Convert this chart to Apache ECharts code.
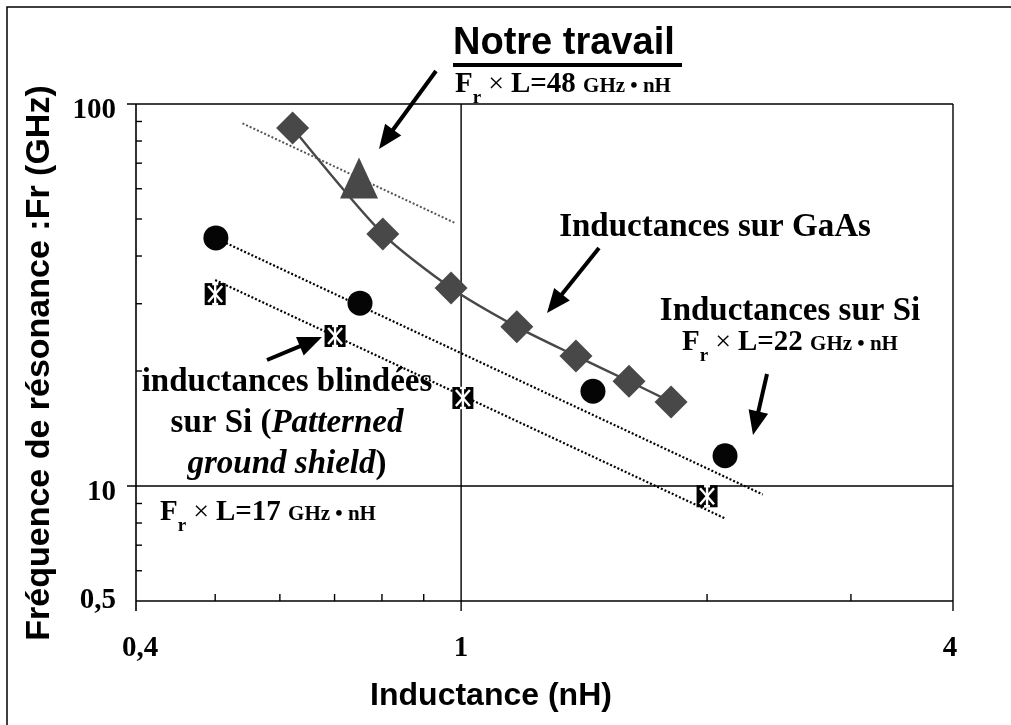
<!DOCTYPE html>
<html>
<head>
<meta charset="utf-8">
<script src="https://cdn.jsdelivr.net/npm/echarts@6/dist/echarts.min.js"></script>
<style>
  html, body { margin: 0; padding: 0; background: #fff; }
  #chart { width: 1011px; height: 725px; }
</style>
</head>
<body>
<div id="chart"></div>
<script>
// Inductance L (nH) against resonance frequency Fr (GHz)
const gaasL = [0.622, 0.802, 0.972, 1.170, 1.382, 1.605, 1.807];
const gaasF = [86.5, 45.7, 33.0, 26.1, 21.9, 18.8, 16.6];

const notreL = [0.75];
const notreF = [64];
const notreFitL = [0.54, 0.985];   // Fr x L = 48 GHz.nH
const notreFitF = [89, 48.7];

const siL = [0.501, 0.752, 1.45, 2.104];
const siF = [44.6, 30.1, 17.7, 12.0];
const siFitL = [0.5, 2.34];        // Fr x L = 22 GHz.nH
const siFitF = [44.6, 9.5];

const pgsL = [0.5, 0.701, 1.005, 2.0];
const pgsF = [31.8, 24.7, 17.0, 9.4];
const pgsFitL = [0.5, 2.1];        // Fr x L = 17 GHz.nH
const pgsFitF = [34.6, 8.24];

// axis ticks
const X_MIN = 0.4, X_MAX = 4, Y_MIN = 5, Y_MAX = 100;
const xMajor = [0.4, 1, 4];
const xMajorLabels = ['0,4', '1', '4'];
const xMinor = [0.5, 0.6, 0.7, 0.8, 0.9, 2, 3];
const yMajor = [5, 10, 100];
const yMajorLabels = ['0,5', '10', '100'];
const yMinor = [6, 7, 8, 9, 20, 30, 40, 50, 60, 70, 80, 90];

const pairs = (xs, ys) => xs.map((x, i) => [x, ys[i]]);

const SERIF = '"Liberation Serif", "Times New Roman", serif';
const SANS = '"Liberation Sans", Arial, sans-serif';

// frame, gridlines, ticks and tick labels, placed through the axes
function renderFrame(params, api) {
  const kids = [];
  const seg = (x1, y1, x2, y2, w) => kids.push({
    type: 'line', shape: { x1, y1, x2, y2 }, style: { stroke: '#000', lineWidth: w }
  });
  const bl = api.coord([X_MIN, Y_MIN]);
  const tr = api.coord([X_MAX, Y_MAX]);
  const left = bl[0], bottom = bl[1], right = tr[0], top = tr[1];

  seg(left, bottom, right, bottom, 1.6);
  yMajor.forEach(v => {
    if (v === Y_MIN) return;
    const y = api.coord([X_MIN, v])[1];
    seg(left - 9, y, right, y, 1.4);
  });
  xMajor.forEach(v => {
    const x = api.coord([v, Y_MIN])[0];
    seg(x, top, x, bottom + 10, v === X_MIN ? 1.6 : 1.4);
  });
  yMinor.forEach(v => {
    const y = api.coord([X_MIN, v])[1];
    seg(left, y, left + 6, y, 1.4);
  });
  xMinor.forEach(v => {
    const x = api.coord([v, Y_MIN])[0];
    seg(x, bottom, x, bottom - 7, 1.4);
  });

  yMajor.forEach((v, i) => kids.push({
    type: 'text',
    x: left - 20, y: api.coord([X_MIN, v])[1] + (v === Y_MIN ? 0 : 7),
    style: { text: yMajorLabels[i], font: 'bold 29px ' + SERIF, fill: '#000', align: 'right', verticalAlign: 'middle' }
  }));
  xMajor.forEach((v, i) => kids.push({
    type: 'text',
    x: api.coord([v, Y_MIN])[0] + (v === X_MIN ? 4 : (v === X_MAX ? -3 : 0)), y: bottom + 48,
    style: { text: xMajorLabels[i], font: 'bold 29px ' + SERIF, fill: '#000', align: 'center', verticalAlign: 'middle' }
  }));
  return { type: 'group', children: kids };
}

// black square with a white star
function renderShieldMarker(params, api) {
  const p = api.coord([api.value(0), api.value(1)]);
  const w = 10.5, h = 11;
  const white = { stroke: '#fff', lineWidth: 2.4 };
  return {
    type: 'group',
    children: [
      { type: 'rect', shape: { x: p[0] - w, y: p[1] - h, width: 2 * w, height: 2 * h }, style: { fill: '#000' } },
      { type: 'line', shape: { x1: p[0] - 7, y1: p[1] - 8, x2: p[0] + 7, y2: p[1] + 8 }, style: white },
      { type: 'line', shape: { x1: p[0] + 7, y1: p[1] - 8, x2: p[0] - 7, y2: p[1] + 8 }, style: white },
      { type: 'line', shape: { x1: p[0], y1: p[1] - 10, x2: p[0], y2: p[1] + 10 }, style: white },
      { type: 'line', shape: { x1: p[0] - 3, y1: p[1] - 10, x2: p[0] + 3, y2: p[1] - 10 }, style: white },
      { type: 'line', shape: { x1: p[0] - 3, y1: p[1] + 10, x2: p[0] + 3, y2: p[1] + 10 }, style: white }
    ]
  };
}

function arrow(x1, y1, x2, y2) {
  const dx = x2 - x1, dy = y2 - y1, len = Math.hypot(dx, dy);
  const ux = dx / len, uy = dy / len;
  const hl = 24, hw = 10;
  const bx = x2 - ux * hl, by = y2 - uy * hl;
  return [
    { type: 'line', shape: { x1, y1, x2: bx + ux * 3, y2: by + uy * 3 }, style: { stroke: '#000', lineWidth: 4 } },
    { type: 'polygon', shape: { points: [[x2, y2], [bx - uy * hw, by + ux * hw], [bx + uy * hw, by - ux * hw]] }, style: { fill: '#000' } }
  ];
}

// "Fr x L = n GHz . nH" with subscript r
const frRich = {
  F: { font: 'bold 29px ' + SERIF, lineHeight: 29, padding: [0, 0, 9, 0], verticalAlign: 'bottom', fill: '#000' },
  r: { font: 'bold 19px ' + SERIF, lineHeight: 19, verticalAlign: 'bottom', fill: '#000' },
  x: { font: '28px ' + SERIF, lineHeight: 29, padding: [0, 0, 9, 0], verticalAlign: 'bottom', fill: '#000' },
  u: { font: 'bold 21px ' + SERIF, lineHeight: 21, padding: [0, 0, 11, 0], verticalAlign: 'bottom', fill: '#000' }
};
function frText(x, y, align, n) {
  return {
    type: 'text', x, y, z: 20,
    style: { text: '{F|F}{r|r}{x| × }{F|L=' + n + ' }{u|GHz • nH}', rich: frRich, align, verticalAlign: 'bottom' }
  };
}
function bigLabel(x, y, text) {
  return {
    type: 'text', x, y, z: 20,
    style: { text, font: 'bold 33px ' + SERIF, fill: '#000', align: 'center', verticalAlign: 'middle' }
  };
}

const chart = echarts.init(document.getElementById('chart'), null, { renderer: 'canvas' });

const hiddenAxis = {
  axisLine: { show: false }, axisTick: { show: false }, axisLabel: { show: false }, splitLine: { show: false }
};

chart.setOption({
  animation: false,
  backgroundColor: '#fff',
  grid: { left: 136, right: 58, top: 104, bottom: 124 },
  xAxis: Object.assign({ type: 'log', logBase: 10, min: X_MIN, max: X_MAX }, hiddenAxis),
  yAxis: Object.assign({ type: 'log', logBase: 10, min: Y_MIN, max: Y_MAX }, hiddenAxis),
  series: [
    {
      name: 'frame', type: 'custom', renderItem: renderFrame, silent: true, z: 1,
      data: [[X_MIN, Y_MIN]]
    },
    {
      name: 'Notre travail (ajustement)', type: 'line', data: pairs(notreFitL, notreFitF),
      showSymbol: false, symbol: 'none', z: 2, silent: true,
      lineStyle: { color: '#555', width: 2, type: [2, 2] }
    },
    {
      name: 'Si (ajustement)', type: 'line', data: pairs(siFitL, siFitF),
      showSymbol: false, symbol: 'none', z: 2, silent: true,
      lineStyle: { color: '#000', width: 2.2, type: [2, 2] }
    },
    {
      name: 'Si blindé (ajustement)', type: 'line', data: pairs(pgsFitL, pgsFitF),
      showSymbol: false, symbol: 'none', z: 2, silent: true,
      lineStyle: { color: '#000', width: 2.2, type: [2, 2] }
    },
    {
      name: 'Inductances sur GaAs', type: 'line', data: pairs(gaasL, gaasF),
      smooth: 0.25, symbol: 'diamond', symbolSize: 33, z: 4,
      itemStyle: { color: '#484848', opacity: 1 },
      lineStyle: { color: '#484848', width: 2.4 }
    },
    {
      name: 'Notre travail', type: 'scatter', data: pairs(notreL, notreF),
      symbol: 'triangle', symbolSize: [38, 41], z: 5,
      itemStyle: { color: '#484848', opacity: 1 }
    },
    {
      name: 'Inductances sur Si', type: 'scatter', data: pairs(siL, siF),
      symbol: 'circle', symbolSize: 25, z: 5,
      itemStyle: { color: '#050505', opacity: 1 }
    },
    {
      name: 'Inductances blindées', type: 'custom', data: pairs(pgsL, pgsF),
      renderItem: renderShieldMarker, z: 5
    }
  ],
  graphic: [
    // outer border
    { type: 'rect', shape: { x: 7, y: 7, width: 1200, height: 900 }, style: { fill: null, stroke: '#000', lineWidth: 1.5 }, z: 10 },
    // axis titles
    { type: 'text', x: 491, y: 696, z: 20, style: { text: 'Inductance (nH)', font: 'bold 32px ' + SANS, fill: '#000', align: 'center', verticalAlign: 'middle' } },
    { type: 'text', x: 40, y: 363, rotation: Math.PI / 2, z: 20, style: { text: 'Fréquence de résonance :Fr (GHz)', font: 'bold 34px ' + SANS, fill: '#000', align: 'center', verticalAlign: 'middle' } },
    // "Notre travail" heading
    { type: 'text', x: 453, y: 44, z: 20, style: { text: 'Notre travail', font: 'bold 38px ' + SANS, fill: '#000', align: 'left', verticalAlign: 'middle' } },
    { type: 'rect', shape: { x: 453, y: 63, width: 229, height: 4 }, style: { fill: '#000' }, z: 20 },
    frText(455, 108, 'left', 48),
    // series annotations
    bigLabel(715, 227, 'Inductances sur GaAs'),
    bigLabel(790, 311, 'Inductances sur Si'),
    frText(790, 366, 'center', 22),
    {
      type: 'text', x: 287, y: 362, z: 20,
      style: {
        text: '{n|inductances blindées}\n{n|sur Si (}{i|Patterned}\n{i|ground shield}{n|)}',
        align: 'center', verticalAlign: 'top',
        rich: {
          n: { font: 'bold 33px ' + SERIF, lineHeight: 41, fill: '#000' },
          i: { font: 'italic bold 33px ' + SERIF, lineHeight: 41, fill: '#000' }
        }
      }
    },
    frText(160, 536, 'left', 17),
    // arrows
    ...arrow(436, 71, 379, 149),
    ...arrow(599, 248, 547, 313),
    ...arrow(767, 374, 753, 435),
    ...arrow(267, 360, 322, 337)
  ]
});
</script>
</body>
</html>
